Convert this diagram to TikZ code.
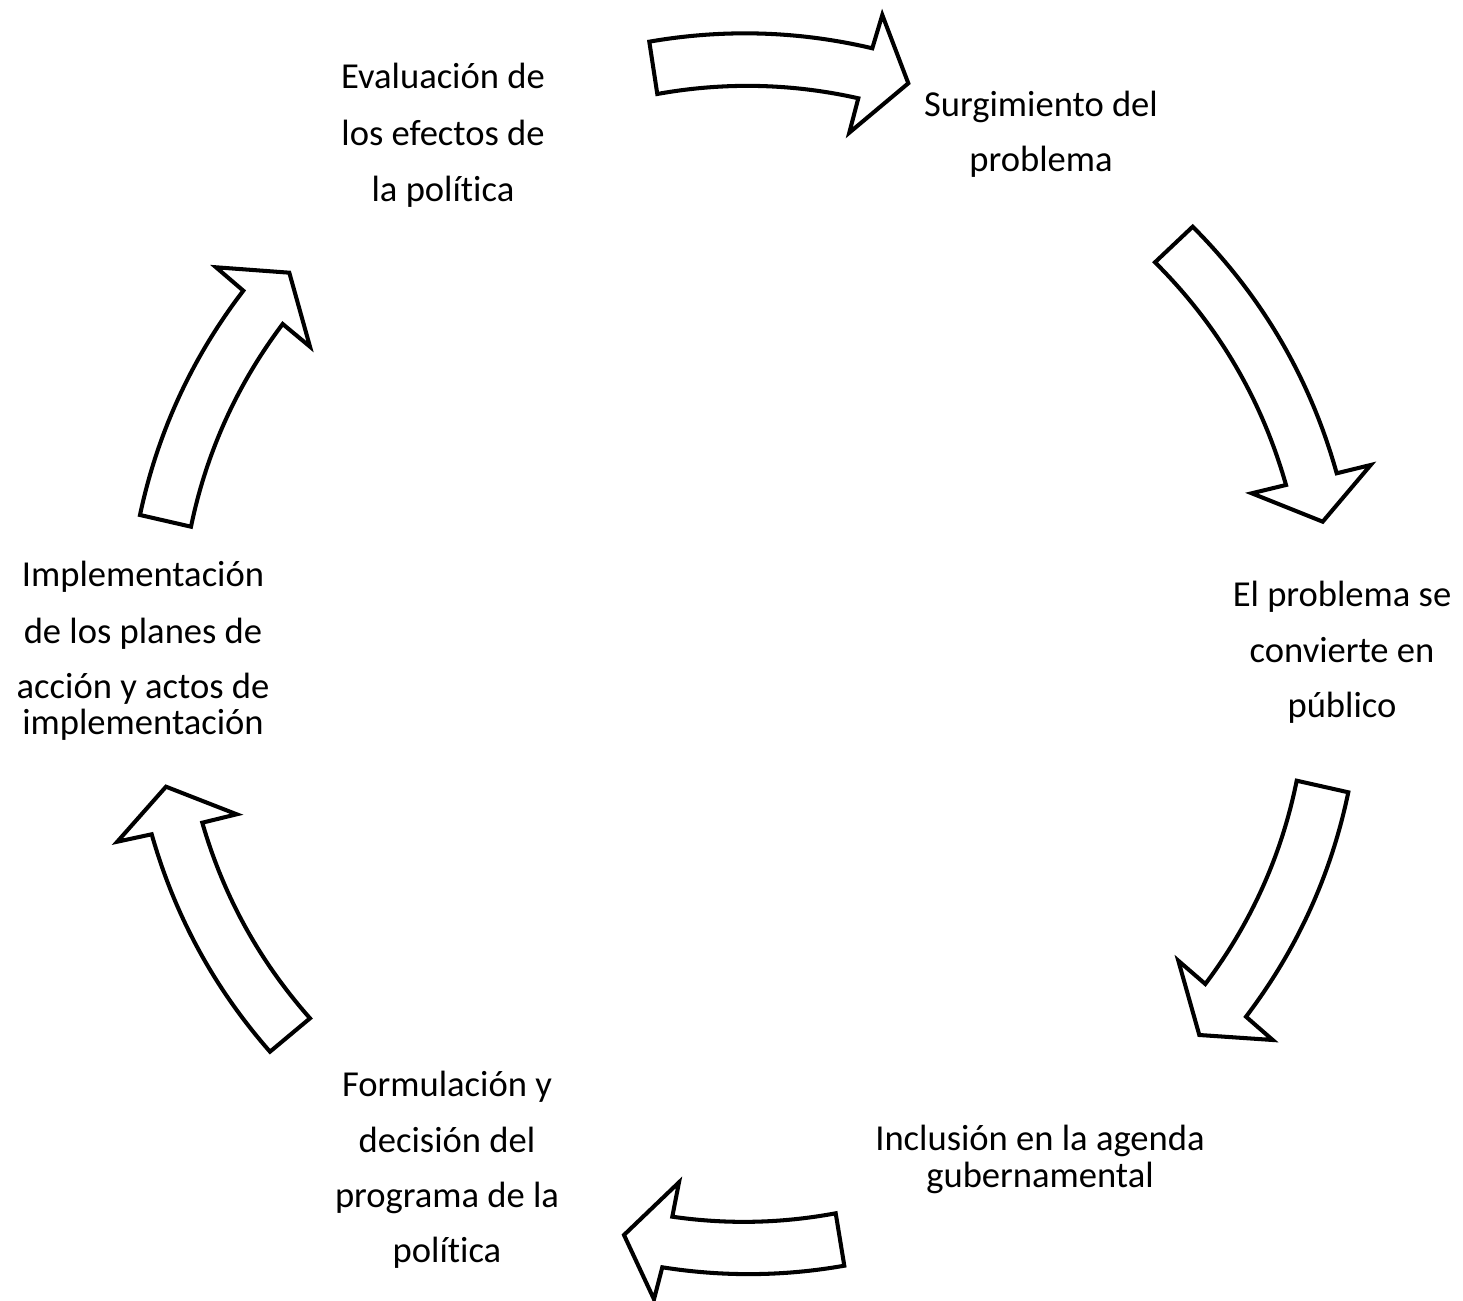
\documentclass[tikz,border=0pt]{standalone}
\usepackage{fontspec}
\setmainfont{Carlito}[Ligatures=NoCommon]
\begin{document}
\begin{tikzpicture}[x=0.01cm,y=-0.01cm,
  blockarrow/.style={draw=black,fill=white,line width=1.15pt,line join=miter},
  lbl/.style={anchor=base,inner sep=0pt,font=\fontsize{10.4}{12.5}\selectfont}]
\useasboundingbox (0,0) rectangle (1463,1301);
% Arrow 1 (top)
\draw[blockarrow] (649.3,41.7) .. controls (724.1,28.7) and (798.4,30.9) .. (872.3,48.3)
  -- (882.3,15) -- (908.3,83.3) -- (849.3,132.7) -- (858.3,98.3)
  .. controls (791.6,83.3) and (724.6,81.9) .. (657.3,94) -- cycle;
% Arrow 2 (upper right)
\draw[blockarrow] (1192.7,226.7) -- (1155,262.3) .. controls (1218.1,325.1) and (1261.7,399.3) .. (1286,485)
  -- (1251.7,493.3) -- (1322.7,521.7) -- (1370.7,465) -- (1336.7,473.3)
  .. controls (1310.2,378.6) and (1262.2,296.4) .. cycle;
% Arrow 3 (lower right)
\draw[blockarrow] (1296.7,780.7) -- (1348.3,792.3) .. controls (1331.1,874.8) and (1297.0,949.6) .. (1246,1016.7)
  -- (1272.7,1040) -- (1199.3,1035) -- (1178.3,960.7) -- (1205.3,984)
  .. controls (1251.1,923.1) and (1281.6,855.4) .. cycle;
% Arrow 4 (bottom)
\draw[blockarrow] (835.7,1213.3) -- (844.3,1265.7) .. controls (783.7,1276.4) and (723.0,1276.9) .. (662.3,1267.3)
  -- (654,1299.3) -- (624,1235) -- (679,1182.3) -- (672.3,1216.7)
  .. controls (727.0,1224.6) and (781.4,1223.4) .. cycle;
% Arrow 5 (lower left)
\draw[blockarrow] (310,1018.3) -- (270,1051.7) .. controls (214.2,988.2) and (174.8,915.7) .. (151.7,834.3)
  -- (117.3,841.7) -- (166,786.7) -- (236.7,814.3) -- (202.3,822.7)
  .. controls (223.5,896.0) and (259.4,961.2) .. cycle;
% Arrow 6 (upper left)
\draw[blockarrow] (140,515) -- (191,526.7) .. controls (206.4,452.3) and (237.0,384.7) .. (282.7,324)
  -- (310,346.7) -- (289.3,272.7) -- (216,267.3) -- (243.3,290.7)
  .. controls (192.0,357.7) and (157.5,432.5) .. cycle;
% Labels
\node[lbl] (eva1) at (443,89) {Evaluación de};
\node[lbl] (eva2) at (443,146) {los efectos de};
\node[lbl] (eva3) at (443,202) {la política};
\node[lbl] (sur1) at (1041,117) {Surgimiento del};
\node[lbl] (sur2) at (1041,172) {problema};
\node[lbl] (pro1) at (1342,607) {El problema se};
\node[lbl] (pro2) at (1342,663) {convierte en};
\node[lbl] (pro3) at (1342,718) {público};
\node[lbl] (inc1) at (1040,1151) {Inclusión en la agenda};
\node[lbl] (inc2) at (1040,1188) {gubernamental};
\node[lbl] (for1) at (447,1097) {Formulación y};
\node[lbl] (for2) at (447,1153) {decisión del};
\node[lbl] (for3) at (447,1208) {programa de la};
\node[lbl] (for4) at (447,1263) {política};
\node[lbl] (imp1) at (143,587) {Implementación};
\node[lbl] (imp2) at (143,644) {de los planes de};
\node[lbl] (imp3) at (143,699) {acción y actos de};
\node[lbl] (imp4) at (143,735) {implementación};
\end{tikzpicture}
\end{document}
